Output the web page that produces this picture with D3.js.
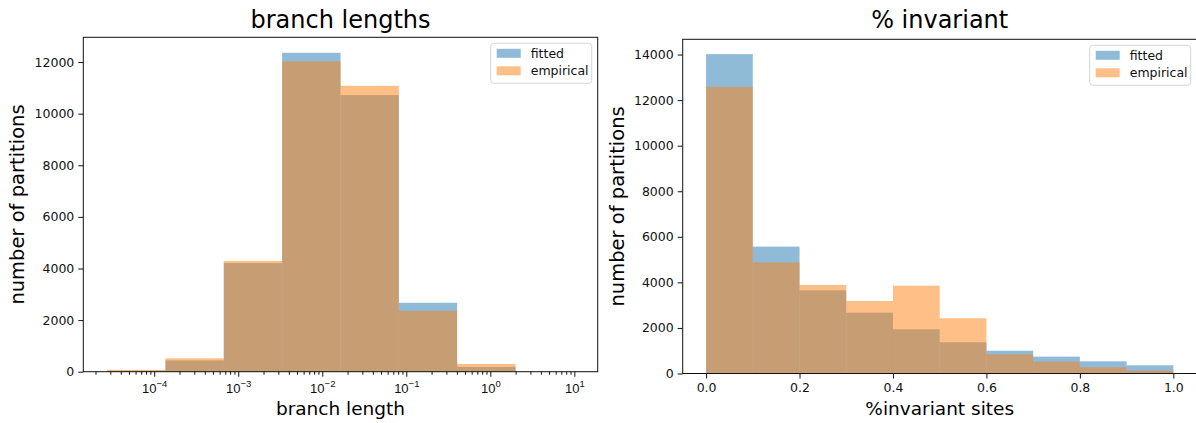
<!DOCTYPE html>
<html>
<head>
<meta charset="utf-8">
<script src="https://cdn.jsdelivr.net/npm/d3@7"></script>
<style>
  body { margin: 0; background: #fff; }
  svg { display: block; font-family: "DejaVu Sans", sans-serif; }
</style>
</head>
<body>
<svg id="chart" width="1196" height="423"></svg>
<script>
// histogram bin edges and counts
const branchEdges = [2.75e-5, 1.36e-4, 6.73e-4, 3.33e-3, 0.0165, 0.0815, 0.403, 2.0];
const branchFitted = [40, 440, 4210, 12360, 10720, 2670, 190];
const branchEmpirical = [70, 520, 4290, 12030, 11080, 2360, 300];
const branchXTicks = [1e-4, 1e-3, 1e-2, 1e-1, 1e0, 1e1];
const branchYTicks = [0, 2000, 4000, 6000, 8000, 10000, 12000];

const invEdges = [0, 0.1, 0.2, 0.3, 0.4, 0.5, 0.6, 0.7, 0.8, 0.9, 1.0];
const invFitted = [14020, 5570, 3650, 2670, 1940, 1370, 1000, 740, 535, 360];
const invEmpirical = [12580, 4880, 3885, 3180, 3855, 2425, 845, 520, 275, 125];
const invXTicks = [0, 0.2, 0.4, 0.6, 0.8, 1.0];
const invYTicks = [0, 2000, 4000, 6000, 8000, 10000, 12000, 14000];

const seriesNames = ['fitted', 'empirical'];
const seriesColors = ['#1f77b4', '#ff7f0e'];

const svg = d3.select('#chart');
svg.append('rect').attr('width', 1196).attr('height', 423).attr('fill', '#fff');

function toBins(edges, counts) {
  return counts.map((c, i) => ({ x0: edges[i], x1: edges[i + 1], count: c }));
}

function drawPanel(opt) {
  const g = svg.append('g');
  const { left, right, top, bottom } = opt.frame;
  const x = opt.x.range([left, right]);
  const y = d3.scaleLinear().domain(opt.yDomain).range([bottom, top]);

  // bars: fitted first, empirical on top, both half transparent
  [opt.fitted, opt.empirical].forEach((counts, si) => {
    g.append('g')
      .selectAll('rect')
      .data(toBins(opt.edges, counts))
      .join('rect')
      .attr('x', (d) => x(d.x0))
      .attr('width', (d) => x(d.x1) - x(d.x0))
      .attr('y', (d) => y(d.count))
      .attr('height', (d) => y(0) - y(d.count))
      .attr('fill', seriesColors[si])
      .attr('fill-opacity', 0.5);
  });

  // frame
  g.append('rect')
    .attr('x', left).attr('y', top)
    .attr('width', right - left).attr('height', bottom - top)
    .attr('fill', 'none').attr('stroke', '#111').attr('stroke-width', 1);

  // y axis
  const yAxis = g.append('g')
    .attr('transform', `translate(${left},0)`)
    .call(d3.axisLeft(y).tickValues(opt.yTicks).tickSize(5).tickPadding(4).tickFormat(d3.format('d')));
  yAxis.select('.domain').remove();
  yAxis.selectAll('text').attr('font-size', 12.5).attr('font-family', 'DejaVu Sans').attr('fill', '#111');
  yAxis.selectAll('line').attr('stroke', '#111');

  // x axis
  const xAxis = g.append('g').attr('transform', `translate(0,${bottom})`);
  if (opt.log) {
    const minor = [];
    for (let e = -5; e <= 1; e++) {
      for (let k = 2; k <= 9; k++) {
        const v = k * Math.pow(10, e);
        if (v >= x.domain()[0] && v <= x.domain()[1]) minor.push(v);
      }
    }
    xAxis.append('g').call(d3.axisBottom(x).tickValues(minor).tickSize(3).tickFormat(''))
      .call((s) => s.select('.domain').remove());
    const major = xAxis.append('g').call(d3.axisBottom(x).tickValues(opt.xTicks).tickSize(5).tickFormat(''));
    major.select('.domain').remove();
    major.selectAll('.tick').each(function (d) {
      const t = d3.select(this).append('text')
        .attr('y', 21).attr('text-anchor', 'middle')
        .attr('font-size', 13).attr('fill', '#111');
      t.append('tspan').text('10');
      t.append('tspan').attr('dy', -5.5).attr('font-size', 9.5)
        .text(String(Math.round(Math.log10(d))).replace('-', '\u2212'));
    });
    xAxis.selectAll('line').attr('stroke', '#111');
  } else {
    const ax = xAxis.call(d3.axisBottom(x).tickValues(opt.xTicks).tickSize(5).tickPadding(5).tickFormat(d3.format('.1f')));
    ax.select('.domain').remove();
    ax.selectAll('text').attr('font-size', 12.5).attr('font-family', 'DejaVu Sans').attr('fill', '#111');
    ax.selectAll('line').attr('stroke', '#111');
  }

  // title
  g.append('text').attr('x', (left + right) / 2).attr('y', 28)
    .attr('text-anchor', 'middle').attr('font-size', 24).attr('fill', '#000')
    .text(opt.title);
  // axis labels
  g.append('text').attr('x', (left + right) / 2).attr('y', 415)
    .attr('text-anchor', 'middle').attr('font-size', 18.5).attr('fill', '#000')
    .text(opt.xLabel);
  g.append('text')
    .attr('transform', `translate(${left - 59},${(top + bottom) / 2}) rotate(-90)`)
    .attr('text-anchor', 'middle').attr('font-size', 19.5).attr('fill', '#000')
    .text('number of partitions');

  // legend
  const lw = 101, lh = 40;
  const lx = Math.min(right, 1197) - 6 - lw, ly = top + 6;
  const leg = g.append('g').attr('transform', `translate(${lx},${ly})`);
  leg.append('rect').attr('width', lw).attr('height', lh).attr('rx', 3)
    .attr('fill', '#fff').attr('fill-opacity', 0.8).attr('stroke', '#d6d6d6');
  seriesNames.forEach((name, i) => {
    const yy = 10 + i * 17.5;
    leg.append('rect').attr('x', 6).attr('y', yy - 4.5).attr('width', 24).attr('height', 9)
      .attr('fill', seriesColors[i]).attr('fill-opacity', 0.5);
    leg.append('text').attr('x', 40).attr('y', yy + 4.5)
      .attr('font-size', 12.5).attr('fill', '#111').text(name);
  });
}

drawPanel({
  frame: { left: 83.3, right: 597.7, top: 37.3, bottom: 371.7 },
  x: d3.scaleLog().domain([Math.pow(10, -4.844), Math.pow(10, 1.278)]),
  log: true,
  yDomain: [0, 12960],
  edges: branchEdges,
  fitted: branchFitted,
  empirical: branchEmpirical,
  xTicks: branchXTicks,
  yTicks: branchYTicks,
  title: 'branch lengths',
  xLabel: 'branch length',
});

drawPanel({
  frame: { left: 682.7, right: 1196.7, top: 39.3, bottom: 373.5 },
  x: d3.scaleLinear().domain([-0.05, 1.05]),
  log: false,
  yDomain: [0, 14670],
  edges: invEdges,
  fitted: invFitted,
  empirical: invEmpirical,
  xTicks: invXTicks,
  yTicks: invYTicks,
  title: '% invariant',
  xLabel: '%invariant sites',
});
</script>
</body>
</html>
